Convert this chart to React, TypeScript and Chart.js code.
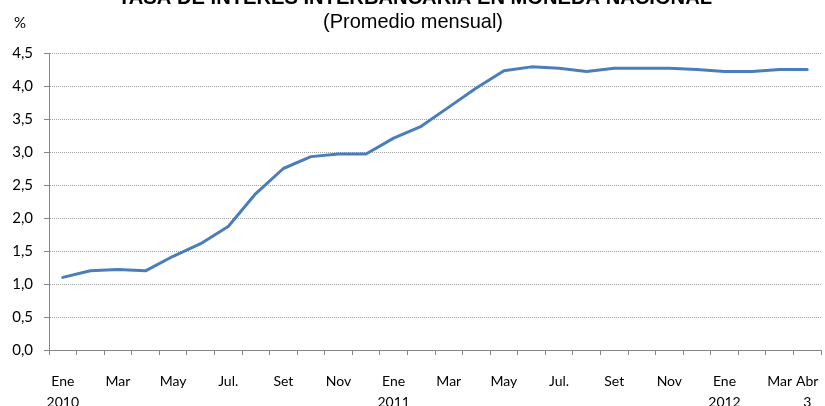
import React, { useEffect, useRef } from "react";
import { Chart, registerables } from "chart.js";

Chart.register(...registerables);

const TITLE = "TASA DE INTERES INTERBANCARIA EN MONEDA NACIONAL";
const SUBTITLE = "(Promedio mensual)";
const UNIT = "%";

const categories = [
  "Ene 2010", "Feb 2010", "Mar 2010", "Abr 2010", "May 2010", "Jun 2010",
  "Jul 2010", "Ago 2010", "Set 2010", "Oct 2010", "Nov 2010", "Dic 2010",
  "Ene 2011", "Feb 2011", "Mar 2011", "Abr 2011", "May 2011", "Jun 2011",
  "Jul 2011", "Ago 2011", "Set 2011", "Oct 2011", "Nov 2011", "Dic 2011",
  "Ene 2012", "Feb 2012", "Mar 2012", "Abr 3 2012",
];

const tickLabels = [
  "Ene\n2010", "", "Mar", "", "May", "", "Jul.", "", "Set", "", "Nov", "",
  "Ene\n2011", "", "Mar", "", "May", "", "Jul.", "", "Set", "", "Nov", "",
  "Ene\n2012", "", "Mar", "Abr\n3",
];

const rates = [
  1.10, 1.20, 1.22, 1.20, 1.42, 1.61, 1.87, 2.37, 2.75, 2.93, 2.97, 2.97,
  3.21, 3.39, 3.68, 3.97, 4.23, 4.29, 4.27, 4.22, 4.27, 4.27, 4.27, 4.25,
  4.22, 4.22, 4.25, 4.25,
];

const yTicks = ["0,0", "0,5", "1,0", "1,5", "2,0", "2,5", "3,0", "3,5", "4,0", "4,5"];

function drawFitted(ctx: CanvasRenderingContext2D, text: string, cx: number, y: number, font: string, width: number) {
  ctx.save();
  ctx.font = font;
  const w = ctx.measureText(text).width;
  const sx = width / w;
  ctx.translate(cx, y);
  ctx.scale(sx, 1);
  ctx.textAlign = "center";
  ctx.textBaseline = "alphabetic";
  ctx.fillText(text, 0, 0);
  ctx.restore();
}

const titlePlugin = {
  id: "customTitles",
  afterDraw(chart: any) {
    const ctx = chart.ctx as CanvasRenderingContext2D;
    ctx.save();
    ctx.fillStyle = "#000";
    drawFitted(ctx, TITLE, 415, 4, "bold 20px 'Liberation Sans', Arial, sans-serif", 594);
    drawFitted(ctx, SUBTITLE, 413, 28, "21px 'Liberation Sans', Arial, sans-serif", 180);
    ctx.font = "15px Lato, sans-serif";
    ctx.textAlign = "center";
    ctx.textBaseline = "alphabetic";
    ctx.fillText(UNIT, 20, 28);
    ctx.restore();
  },
};

export default function App() {
  const canvasRef = useRef<HTMLCanvasElement | null>(null);

  useEffect(() => {
    document.body.style.margin = "0";
    const canvas = canvasRef.current;
    if (!canvas) return;
    const chart = new Chart(canvas, {
      type: "line",
      data: {
        labels: categories,
        datasets: [
          {
            data: rates,
            borderColor: "#4a7ebb",
            borderWidth: 3,
            pointRadius: 0,
            pointHoverRadius: 0,
            tension: 0,
            fill: false,
            borderCapStyle: "round",
            borderJoinStyle: "round",
          },
        ],
      },
      options: {
        animation: false,
        responsive: false,
        devicePixelRatio: 1,
        layout: { padding: { top: 53, right: 4, left: 0, bottom: 0 } },
        plugins: {
          legend: { display: false },
          tooltip: { enabled: false },
          title: { display: false },
        },
        scales: {
          x: {
            type: "category",
            offset: true,
            grid: {
              offset: true,
              drawOnChartArea: false,
              drawTicks: true,
              tickLength: 5,
              tickColor: "#868686",
              lineWidth: 1,
            },
            border: { color: "#868686", width: 1 },
            ticks: {
              autoSkip: false,
              maxRotation: 0,
              minRotation: 0,
              padding: 16,
              color: "#000",
              font: { family: "Lato, sans-serif", size: 14, lineHeight: 1.5 },
              callback: (_v: any, i: number) => tickLabels[i].split("\n"),
            },
            afterFit: (s: any) => {
              s.height = 56;
              s.paddingLeft = 0;
              s.paddingRight = 0;
            },
          },
          y: {
            min: 0,
            max: 4.5,
            grid: {
              color: "#a0a0a0",
              lineWidth: 1,
              drawTicks: true,
              tickLength: 5,
              tickColor: "#868686",
              tickBorderDash: [],
            },
            border: { color: "#868686", width: 1, dash: [1, 1] },
            ticks: {
              stepSize: 0.5,
              padding: 11,
              color: "#000",
              font: { family: "Lato, sans-serif", size: 15 },
              callback: (_v: any, i: number) => yTicks[i],
            },
            afterFit: (s: any) => {
              s.width = 49;
            },
          },
        },
      },
      plugins: [titlePlugin],
    } as any);
    return () => chart.destroy();
  }, []);

  return (
    <div style={{ width: 825, height: 406, position: "relative", overflow: "hidden" }}>
      <canvas ref={canvasRef} width={825} height={406} style={{ display: "block" }} />
    </div>
  );
}
